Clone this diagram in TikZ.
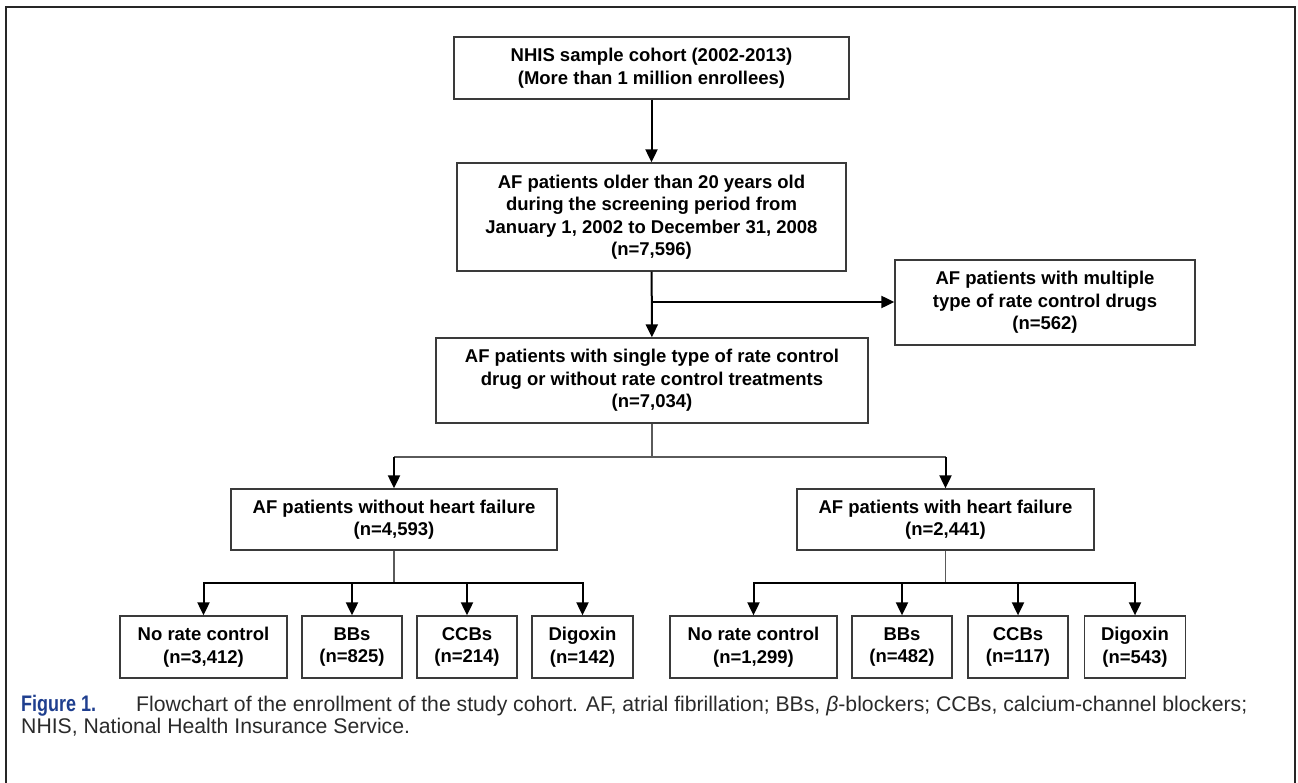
\documentclass[tikz,border=0pt]{standalone}
\usepackage{fontspec}
\setmainfont{Liberation Sans}
\newfontfamily\figfont[FakeStretch=0.8]{Liberation Sans}
\usetikzlibrary{positioning,calc,arrows.meta}
\definecolor{boxgray}{HTML}{3A3A3A}
\definecolor{linkgray}{HTML}{5A5A5A}
\definecolor{capblue}{HTML}{1F3F8F}
\definecolor{captext}{HTML}{2A2A2A}
\newcommand{\boxfont}{\fontsize{18.5}{22.5}\selectfont\bfseries}
\newcommand{\capfont}{\fontsize{21.2}{22}\selectfont}
\tikzset{
  box/.style={rectangle,draw=boxgray,line width=1.3pt,fill=white,inner sep=0,align=center,font=\boxfont},
  leaf/.style={box,minimum height=62pt},
  % connectors: thick arrows, thin plain links
  arrow/.style={-{Triangle[length=13pt,width=12pt]},line width=2pt,black},
  link/.style={line width=1.2pt,linkgray},
  frame/.style={line width=2.5pt,black!85},
}
\begin{document}
\begin{tikzpicture}[x=1pt,y=-1pt]
  \useasboundingbox (0,0) rectangle (1298,783);
  \draw[frame] (6,783) -- (6,7) -- (1295,7) -- (1295,783);
  % main column
  \node[box,minimum width=395pt,minimum height=62pt] (nhis) at (651.5,68)
    {NHIS sample cohort (2002-2013)\\(More than 1 million enrollees)};
  \node[box,minimum width=389pt,minimum height=108pt] (screen) at (651.5,217)
    {AF patients older than 20 years old\\during the screening period from\\January 1, 2002 to December 31, 2008\\(n=7,596)};
  \node[box,minimum width=432pt,minimum height=85pt] (single) at (652,380.5)
    {AF patients with single type of rate control\\drug or without rate control treatments\\(n=7,034)};
  \node[box,minimum width=300pt,minimum height=85pt] (multi) at (1045,302.5)
    {AF patients with multiple\\type of rate control drugs\\(n=562)};
  % heart failure split
  \node[box,minimum width=326pt,minimum height=61pt] (noHF) at (394,519.5)
    {AF patients without heart failure\\(n=4,593)};
  \node[box,minimum width=297pt,minimum height=61pt] (HF) at (945.5,519.5)
    {AF patients with heart failure\\(n=2,441)};
  % drug groups, without HF
  \node[leaf,minimum width=167pt] (nrcA) at (203.5,647) {No rate control\\(n=3,412)};
  \node[leaf,minimum width=100pt] (bbA) at (352,647) {BBs\\(n=825)};
  \node[leaf,minimum width=100pt] (ccbA) at (467,647) {CCBs\\(n=214)};
  \node[leaf,minimum width=101pt] (digA) at (582.5,647) {Digoxin\\(n=142)};
  % drug groups, with HF
  \node[leaf,minimum width=167pt] (nrcB) at (753.5,647) {No rate control\\(n=1,299)};
  \node[leaf,minimum width=100pt] (bbB) at (902,647) {BBs\\(n=482)};
  \node[leaf,minimum width=100pt] (ccbB) at (1018,647) {CCBs\\(n=117)};
  \node[leaf,minimum width=101pt] (digB) at (1135,647) {Digoxin\\(n=543)};
  % connectors
  \coordinate (excl) at (652,302);
  \coordinate (split) at (652,457);
  \coordinate (splitA) at (394,583);
  \coordinate (splitB) at (945.5,583);
  \draw[arrow] (nhis) -- (screen);
  \draw[arrow] (screen) -- (single);
  \draw[arrow] (excl) -- (multi.west |- excl);
  \draw[link] (single) -- (split);
  \draw[link] (noHF.north |- split) -- (HF.north |- split);
  \draw[arrow] (noHF.north |- split) -- (noHF);
  \draw[arrow] (HF.north |- split) -- (HF);
  \draw[link] (noHF) -- (splitA);
  \draw[link] (HF) -- (splitB);
  \foreach \n in {nrcA,bbA,ccbA,digA} \draw[arrow] (splitA) -| (\n.north);
  \foreach \n in {nrcB,bbB,ccbB,digB} \draw[arrow] (splitB) -| (\n.north);
  % caption
  \node[anchor=base west,align=left,inner sep=0,font=\capfont,text=captext] (cap) at (21,733)
    {{\figfont\bfseries\fontsize{22.5}{22}\selectfont\color{capblue}Figure 1.}\hspace{40pt}Flowchart of the enrollment of the study cohort. AF, atrial fibrillation; BBs, \textit{β}-blockers; CCBs, calcium-channel blockers;\\NHIS, National Health Insurance Service.};
\end{tikzpicture}
\end{document}
